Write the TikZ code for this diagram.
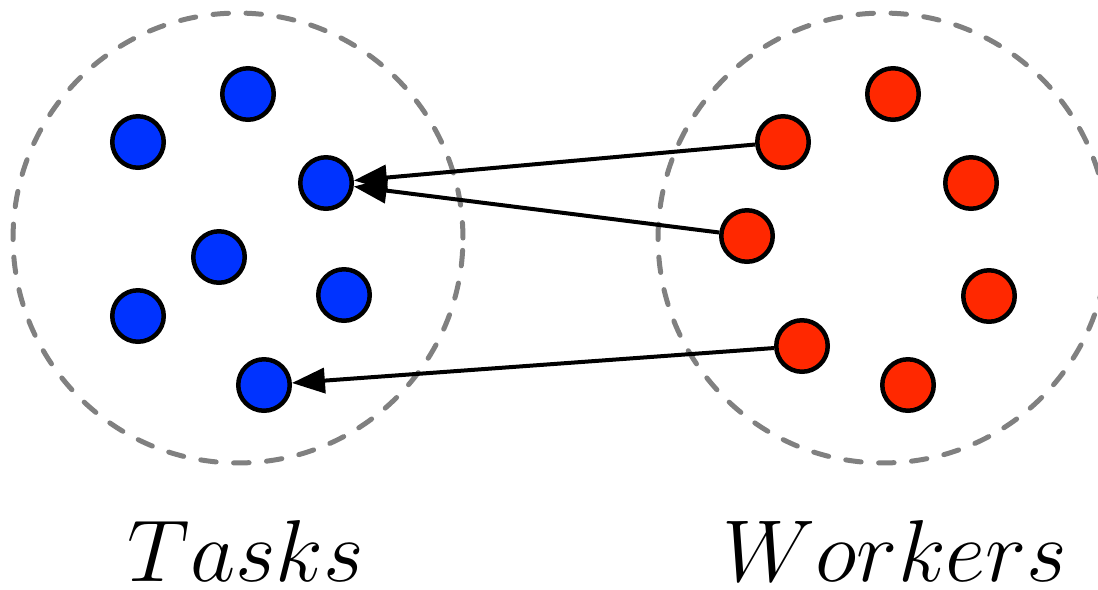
\RequirePackage{fix-cm}
\documentclass[tikz,border=0pt]{standalone}
\usetikzlibrary{arrows.meta}
\definecolor{taskblue}{RGB}{0,51,255}
\definecolor{workerred}{RGB}{255,40,0}
\definecolor{setgray}{RGB}{128,128,128}
\tikzset{
  pool/.style={draw=setgray, line width=0.1cm, line cap=round,
    dash pattern=on 0.31cm off 0.35cm},
  dot/.style={circle, draw=black, line width=0.09cm, minimum size=1.03cm, inner sep=0pt},
  task/.style={dot, fill=taskblue},
  worker/.style={dot, fill=workerred},
  assign/.style={line width=0.08cm, -{Triangle[length=0.66cm,width=0.5cm]}},
  setlabel/.style={anchor=base, inner sep=0pt, text depth=0pt,
    font=\fontsize{50}{60}\selectfont}
}
\begin{document}
\begin{tikzpicture}[x=0.02cm, y=-0.02cm]
  \useasboundingbox (0,0) rectangle (1098,589);
  \begin{scope}
    \clip (0,0) rectangle (1098,589);
    % the two sets
    \draw[pool] (238,238) circle[radius=4.5cm];
    \draw[pool] (883,238) circle[radius=4.5cm];
  \end{scope}

  % tasks
  \node[task] (t1) at (248,94) {};
  \node[task] (t2) at (138,142) {};
  \node[task] (t3) at (326,183) {};
  \node[task] (t4) at (219,257) {};
  \node[task] (t5) at (138,316) {};
  \node[task] (t6) at (344,295) {};
  \node[task] (t7) at (264,385) {};

  % workers
  \node[worker] (w1) at (893,94) {};
  \node[worker] (w2) at (783,142) {};
  \node[worker] (w3) at (971,183) {};
  \node[worker] (w4) at (747,236) {};
  \node[worker] (w5) at (989,296) {};
  \node[worker] (w6) at (802,346) {};
  \node[worker] (w7) at (908,385) {};

  % assignments
  \draw[assign] (w2) -- (t3);
  \draw[assign] (w4) -- (t3);
  \draw[assign] (w6) -- (t7);

  % labels
  \node[setlabel] (lt) at (246,581) {$Tasks$};
  \node[setlabel] (lw) at (895,581) {$Workers$};
\end{tikzpicture}
\end{document}
